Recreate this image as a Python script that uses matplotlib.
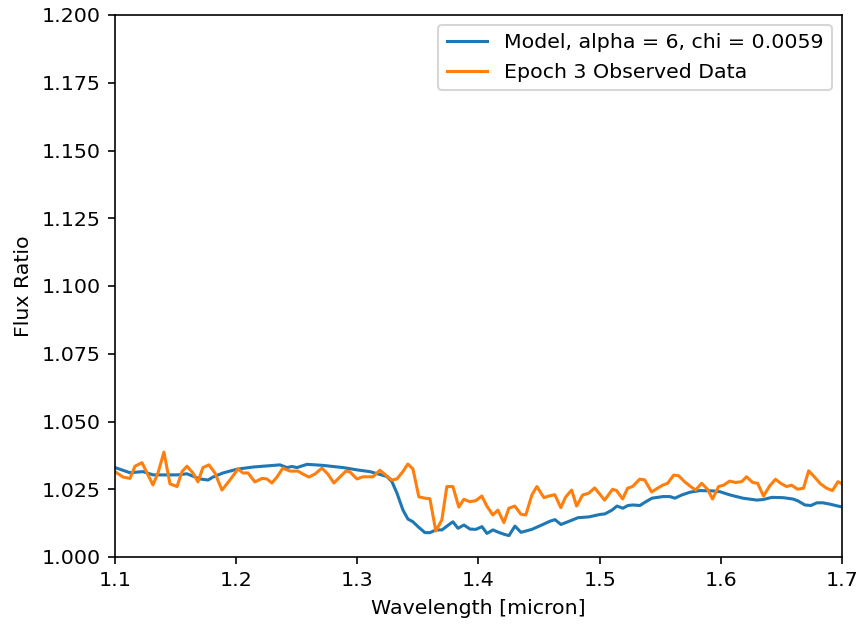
import matplotlib
matplotlib.use("Agg")
import matplotlib.pyplot as plt

# Epoch 3 observed flux ratio (wavelength in micron, flux ratio)
obs_wave = [
    1.1000, 1.1066, 1.1124, 1.1165, 1.1223, 1.1313, 1.1355, 1.1404, 1.1454, 1.1512,
    1.1553, 1.1594, 1.1643, 1.1685, 1.1726, 1.1775, 1.1825, 1.1883, 1.1949, 1.2015,
    1.2056, 1.2098, 1.2155, 1.2213, 1.2254, 1.2295, 1.2337, 1.2386, 1.2444, 1.2510,
    1.2551, 1.2601, 1.2650, 1.2708, 1.2757, 1.2807, 1.2856, 1.2906, 1.2939, 1.2997,
    1.3046, 1.3087, 1.3129, 1.3186, 1.3285, 1.3327, 1.3376, 1.3417, 1.3459, 1.3508,
    1.3558, 1.3599, 1.3648, 1.3698, 1.3739, 1.3789, 1.3838, 1.3879, 1.3929, 1.3978,
    1.4028, 1.4069, 1.4119, 1.4160, 1.4210, 1.4251, 1.4300, 1.4350, 1.4391, 1.4441,
    1.4482, 1.4540, 1.4581, 1.4630, 1.4680, 1.4719, 1.4769, 1.4810, 1.4860, 1.4909,
    1.4959, 1.5041, 1.5107, 1.5140, 1.5190, 1.5231, 1.5272, 1.5330, 1.5371, 1.5429,
    1.5479, 1.5520, 1.5561, 1.5611, 1.5652, 1.5701, 1.5751, 1.5792, 1.5842, 1.5891,
    1.5932, 1.5982, 1.6023, 1.6073, 1.6122, 1.6172, 1.6213, 1.6263, 1.6304, 1.6353,
    1.6403, 1.6452, 1.6494, 1.6543, 1.6584, 1.6634, 1.6683, 1.6725, 1.6774, 1.6823,
    1.6873, 1.6922, 1.6967, 1.7000,
]
obs_flux = [
    1.0315, 1.0295, 1.0290, 1.0335, 1.0348, 1.0266, 1.0310, 1.0387, 1.0270, 1.0260,
    1.0315, 1.0335, 1.0310, 1.0277, 1.0330, 1.0340, 1.0310, 1.0247, 1.0284, 1.0325,
    1.0310, 1.0310, 1.0277, 1.0290, 1.0288, 1.0273, 1.0295, 1.0328, 1.0317, 1.0317,
    1.0306, 1.0295, 1.0306, 1.0328, 1.0306, 1.0273, 1.0295, 1.0317, 1.0314, 1.0288,
    1.0296, 1.0296, 1.0296, 1.0320, 1.0284, 1.0288, 1.0315, 1.0343, 1.0325, 1.0222,
    1.0217, 1.0215, 1.0096, 1.0137, 1.0260, 1.0260, 1.0184, 1.0213, 1.0204, 1.0208,
    1.0225, 1.0188, 1.0155, 1.0173, 1.0127, 1.0180, 1.0188, 1.0158, 1.0155, 1.0229,
    1.0260, 1.0219, 1.0225, 1.0230, 1.0182, 1.0221, 1.0247, 1.0188, 1.0229, 1.0235,
    1.0255, 1.0210, 1.0250, 1.0245, 1.0214, 1.0254, 1.0260, 1.0287, 1.0285, 1.0240,
    1.0254, 1.0265, 1.0272, 1.0302, 1.0300, 1.0278, 1.0260, 1.0247, 1.0272, 1.0250,
    1.0214, 1.0260, 1.0265, 1.0280, 1.0275, 1.0278, 1.0296, 1.0275, 1.0272, 1.0225,
    1.0262, 1.0287, 1.0272, 1.0260, 1.0265, 1.0250, 1.0254, 1.0318, 1.0295, 1.0270,
    1.0254, 1.0245, 1.0278, 1.0270,
]

# Best-fit model spectrum
model_wave = [
    1.1000, 1.1124, 1.1231, 1.1314, 1.1512, 1.1594, 1.1701, 1.1768, 1.1809, 1.1891,
    1.2007, 1.2139, 1.2362, 1.2419, 1.2461, 1.2502, 1.2585, 1.2717, 1.2882, 1.3005,
    1.3104, 1.3245, 1.3286, 1.3327, 1.3377, 1.3418, 1.3459, 1.3501, 1.3558, 1.3600,
    1.3649, 1.3699, 1.3740, 1.3789, 1.3831, 1.3880, 1.3930, 1.3979, 1.4029, 1.4070,
    1.4120, 1.4161, 1.4210, 1.4252, 1.4301, 1.4351, 1.4441, 1.4532, 1.4590, 1.4631,
    1.4681, 1.4772, 1.4821, 1.4912, 1.5003, 1.5044, 1.5102, 1.5143, 1.5192, 1.5234,
    1.5275, 1.5333, 1.5374, 1.5432, 1.5523, 1.5580, 1.5621, 1.5679, 1.5745, 1.5828,
    1.5935, 1.5993, 1.6076, 1.6183, 1.6298, 1.6348, 1.6422, 1.6513, 1.6595, 1.6637,
    1.6694, 1.6744, 1.6793, 1.6843, 1.6901, 1.6967, 1.7000,
]
model_flux = [
    1.0330, 1.0311, 1.0315, 1.0303, 1.0303, 1.0307, 1.0288, 1.0284, 1.0295, 1.0310,
    1.0324, 1.0332, 1.0340, 1.0330, 1.0334, 1.0330, 1.0342, 1.0338, 1.0330, 1.0321,
    1.0315, 1.0297, 1.0278, 1.0236, 1.0173, 1.0140, 1.0130, 1.0112, 1.0090, 1.0090,
    1.0100, 1.0100, 1.0114, 1.0130, 1.0106, 1.0118, 1.0103, 1.0102, 1.0112, 1.0087,
    1.0100, 1.0092, 1.0084, 1.0079, 1.0114, 1.0091, 1.0102, 1.0120, 1.0132, 1.0138,
    1.0120, 1.0136, 1.0145, 1.0148, 1.0157, 1.0159, 1.0173, 1.0188, 1.0180, 1.0190,
    1.0192, 1.0190, 1.0202, 1.0217, 1.0223, 1.0223, 1.0217, 1.0229, 1.0239, 1.0245,
    1.0244, 1.0241, 1.0229, 1.0217, 1.0210, 1.0212, 1.0220, 1.0219, 1.0214, 1.0207,
    1.0192, 1.0190, 1.0200, 1.0200, 1.0195, 1.0188, 1.0185,
]

model_label = "Model, alpha = 6, chi = 0.0059"
obs_label = "Epoch 3 Observed Data"

dpi = 147.5
fig = plt.figure(figsize=(860 / dpi, 625 / dpi), dpi=dpi)
ax = fig.add_axes([0.1337, 0.1088, 0.8453, 0.8672])

ax.plot(model_wave, model_flux, color="#1f77b4", label=model_label)
ax.plot(obs_wave, obs_flux, color="#ff7f0e", label=obs_label)

ax.set_xlim(1.1, 1.7)
ax.set_ylim(1.0, 1.2)
ax.set_yticks([1.0 + 0.025 * k for k in range(9)])
ax.set_xlabel("Wavelength [micron]")
ax.set_ylabel("Flux Ratio")
ax.legend(loc="upper right")

fig.savefig("out.png", dpi=dpi)
